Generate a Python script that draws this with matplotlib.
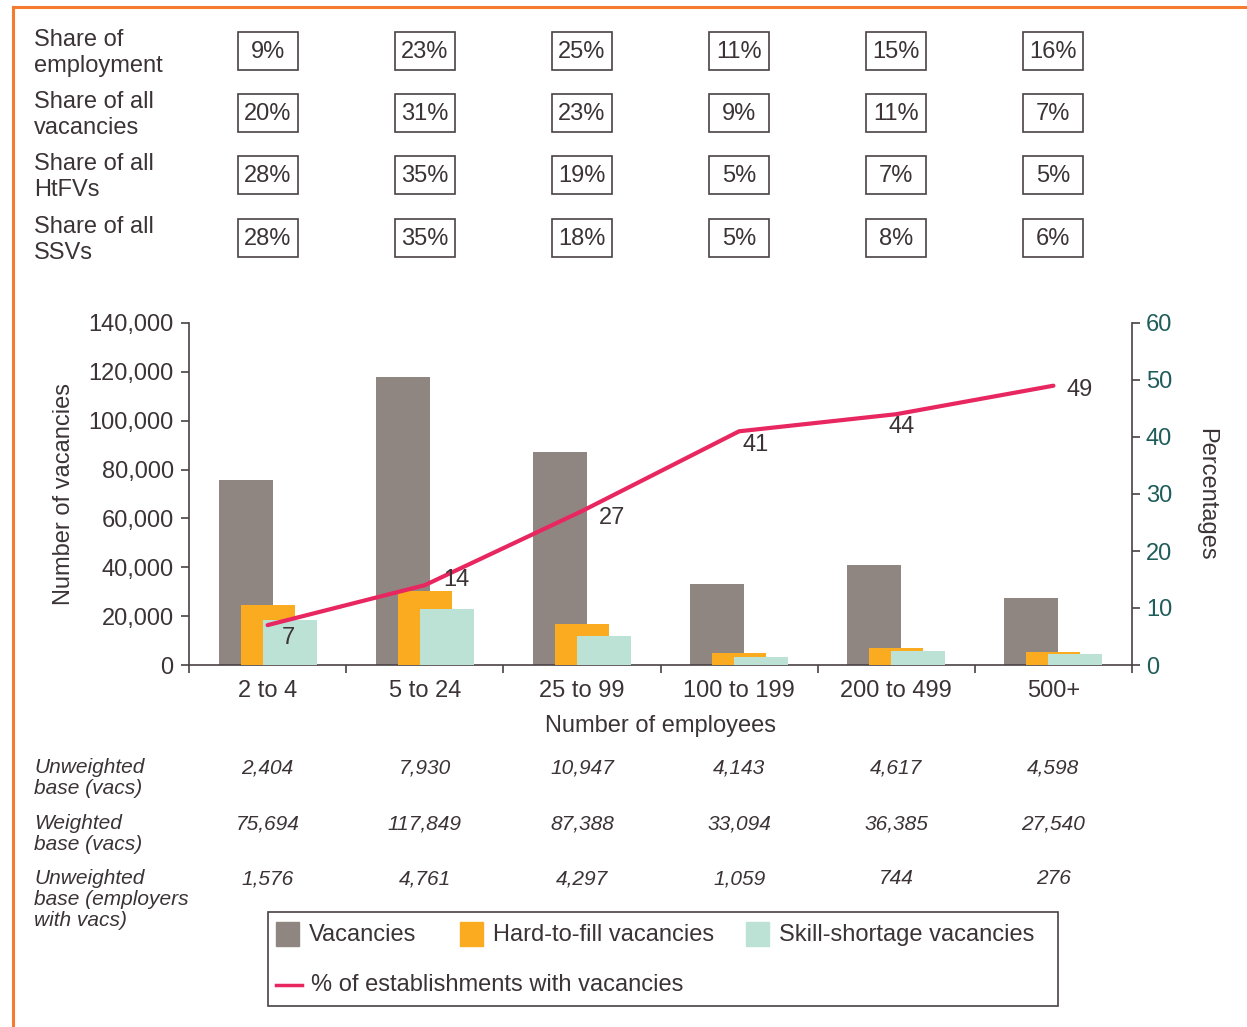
import matplotlib.pyplot as plt
import matplotlib.transforms as mtransforms
from matplotlib.patches import Rectangle
from matplotlib.lines import Line2D

plt.rcParams["font.family"] = ["Liberation Sans", "DejaVu Sans"]

# data
categories = ["2 to 4", "5 to 24", "25 to 99", "100 to 199", "200 to 499", "500+"]
vacancies = [75694, 117849, 87388, 33094, 41000, 27540]
hard_to_fill = [24500, 30200, 16700, 4900, 6900, 5300]
skill_shortage = [18400, 22900, 11900, 3300, 5700, 4500]
pct_with_vacancies = [7, 14, 27, 41, 44, 49]

share_labels = ["Share of\nemployment", "Share of all\nvacancies", "Share of all\nHtFVs", "Share of all\nSSVs"]
share_employment = ["9%", "23%", "25%", "11%", "15%", "16%"]
share_vacancies = ["20%", "31%", "23%", "9%", "11%", "7%"]
share_htfv = ["28%", "35%", "19%", "5%", "7%", "5%"]
share_ssv = ["28%", "35%", "18%", "5%", "8%", "6%"]

base_labels = ["Unweighted\nbase (vacs)", "Weighted\nbase (vacs)", "Unweighted\nbase (employers\nwith vacs)"]
unweighted_vacs = ["2,404", "7,930", "10,947", "4,143", "4,617", "4,598"]
weighted_vacs = ["75,694", "117,849", "87,388", "33,094", "36,385", "27,540"]
unweighted_emp = ["1,576", "4,761", "4,297", "1,059", "744", "276"]

GREY = "#8f8682"
ORANGE = "#fbab1f"
TEAL = "#bbe2d5"
PINK = "#e8265f"
TXT = "#3b3335"
AXC = "#4a4244"
RTXT = "#1f5d5a"
FRAME = "#f47b30"

W, H = 1247, 1027


def fy(p):
    return 1 - p / H


fig = plt.figure(figsize=(W / 100, H / 100), dpi=100)

# orange frame (top and left)
fig.add_artist(Line2D([13 / W, 1.0], [fy(7), fy(7)], color=FRAME, lw=2.2))
fig.add_artist(Line2D([13 / W, 13 / W], [fy(7), 0.0], color=FRAME, lw=2.2))

ax = fig.add_axes([189 / W, fy(665), (1132 - 189) / W, (665 - 323) / H])
ax2 = ax.twinx()

x = list(range(len(categories)))
bw = 0.344
ax.bar([i - 0.14 for i in x], vacancies, bw, color=GREY, zorder=2)
ax.bar(x, hard_to_fill, bw, color=ORANGE, zorder=3)
ax.bar([i + 0.14 for i in x], skill_shortage, bw, color=TEAL, zorder=4)

ax.set_xlim(-0.5, len(categories) - 0.5)
ax.set_ylim(0, 140000)
ax.set_yticks(range(0, 140001, 20000))
ax.set_yticklabels([f"{v:,}" for v in range(0, 140001, 20000)])
ax.set_xticks(x)
ax.set_xticklabels(categories)
ax.set_xticks([i - 0.5 for i in range(len(categories) + 1)], minor=True)
ax.tick_params(axis="x", which="major", length=0, pad=11, labelsize=17, labelcolor=TXT)
ax.tick_params(axis="x", which="minor", length=6, color=AXC, width=1.2)
ax.tick_params(axis="y", length=6, color=AXC, width=1.2, labelsize=17, labelcolor=TXT, pad=5)
ax.set_xlabel("Number of employees", fontsize=17, color=TXT, labelpad=9)
ax.set_ylabel("Number of vacancies", fontsize=17, color=TXT, labelpad=10)

ax2.plot(x, pct_with_vacancies, color=PINK, lw=3, solid_capstyle="round", zorder=5)
ax2.set_ylim(0, 60)
ax2.set_yticks(range(0, 61, 10))
ax2.tick_params(axis="y", length=6, color=AXC, width=1.2, labelsize=17, labelcolor=RTXT, pad=4)
ax2.set_ylabel("Percentages", fontsize=17, color=TXT, rotation=270, labelpad=32)

label_offsets = [(15, -9), (23, 4), (22, -5), (12, -10), (4, -9), (19, -3)]
for i, v in enumerate(pct_with_vacancies):
    ax2.annotate(str(v), (x[i], v), xytext=label_offsets[i], textcoords="offset points",
                 ha="center", va="center", fontsize=17, color=TXT, zorder=6)

for a in (ax, ax2):
    a.spines["top"].set_visible(False)
    for s in ("left", "right", "bottom"):
        a.spines[s].set_color(AXC)
        a.spines[s].set_linewidth(1.2)
ax.spines["right"].set_visible(False)
ax2.spines["left"].set_visible(False)
ax2.spines["bottom"].set_visible(False)

# top share table
tr = mtransforms.blended_transform_factory(ax.transData, fig.transFigure)
row_y = [51, 113, 175, 238]
share_rows = [share_employment, share_vacancies, share_htfv, share_ssv]
for r, (lab, vals) in enumerate(zip(share_labels, share_rows)):
    yc = fy(row_y[r] + 2)
    fig.text(34 / W, yc, lab, fontsize=17, color=TXT, ha="left", va="center", linespacing=1.18)
    for i, v in enumerate(vals):
        ax.add_artist(Rectangle((i - 30 / 157.2, fy(row_y[r] + 19)), 60 / 157.2, 38 / H,
                                transform=tr, fill=False, edgecolor=AXC, lw=1.2, clip_on=False))
        ax.text(i, fy(row_y[r] + 1), v, transform=tr, fontsize=17, color=TXT,
                ha="center", va="center", clip_on=False)

# bottom base rows
base_y = [768, 824, 879]
base_rows = [unweighted_vacs, weighted_vacs, unweighted_emp]
for r, (lab, vals) in enumerate(zip(base_labels, base_rows)):
    fig.text(34 / W, fy(base_y[r] - 10), lab, fontsize=15, style="italic", color=TXT,
             ha="left", va="top", linespacing=1.12)
    for i, v in enumerate(vals):
        ax.text(i, fy(base_y[r]), v, transform=tr, fontsize=15, style="italic", color=TXT,
                ha="center", va="center", clip_on=False)

# legend drawn by hand
fig.add_artist(Rectangle((268 / W, fy(1006)), (1058 - 268) / W, (1006 - 912) / H,
                         fill=False, edgecolor=AXC, lw=1.2, transform=fig.transFigure))
legend_items = [(276, GREY, "Vacancies"), (460, ORANGE, "Hard-to-fill vacancies"),
                (746, TEAL, "Skill-shortage vacancies")]
for px, col, lab in legend_items:
    fig.add_artist(Rectangle((px / W, fy(946)), 23 / W, 24 / H, color=col,
                             transform=fig.transFigure))
    fig.text((px + 33) / W, fy(935), lab, fontsize=17, color=TXT, ha="left", va="center")
fig.add_artist(Line2D([276 / W, 302 / W], [fy(985), fy(985)], color=PINK, lw=2.5))
fig.text(311 / W, fy(985), "% of establishments with vacancies", fontsize=17, color=TXT,
         ha="left", va="center")

fig.savefig("out.png", dpi=100)
